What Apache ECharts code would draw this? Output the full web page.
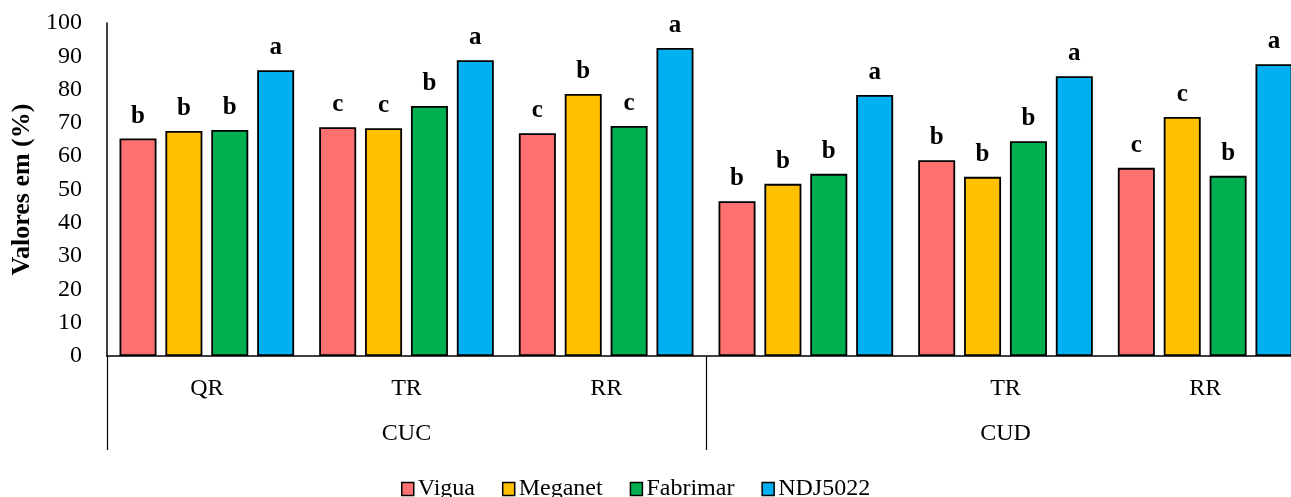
<!DOCTYPE html>
<html>
<head>
<meta charset="utf-8">
<script src="https://cdn.jsdelivr.net/npm/echarts@6/dist/echarts.min.js"></script>
<style>
  html, body { margin: 0; padding: 0; background: #fff; overflow: hidden; }
  /* o gráfico original está cortado à direita: desenha mais largo e esconde o excesso */
  #chart { width: 1305px; height: 497px; }
</style>
</head>
<body>
<div id="chart"></div>
<script>
// categorias (nível inferior e superior)
const categories = ['QR', 'TR', 'RR', '', 'TR', 'RR'];
const groups = ['CUC', 'CUD'];
const seriesNames = ['Vigua', 'Meganet', 'Fabrimar', 'NDJ5022'];

// valores (%)
const vigua = [65.3, 68.7, 66.9, 46.5, 58.8, 56.5];
const meganet = [67.6, 68.4, 78.7, 51.7, 53.8, 71.8];
const fabrimar = [67.9, 75.1, 69.1, 54.7, 64.5, 54.1];
const ndj5022 = [85.8, 88.8, 92.5, 78.4, 84.0, 87.6];

// letras de significância
const viguaLetters = ['b', 'c', 'c', 'b', 'b', 'c'];
const meganetLetters = ['b', 'c', 'b', 'b', 'b', 'c'];
const fabrimarLetters = ['b', 'b', 'c', 'b', 'b', 'b'];
const ndjLetters = ['a', 'a', 'a', 'a', 'a', 'a'];

const yTicks = [0, 100, 10]; // min, max, intervalo

const colors = ['#FF7171', '#FFC000', '#00B050', '#00B0F0'];
const FONT = '"Liberation Serif", "Times New Roman", serif';

const chart = echarts.init(document.getElementById('chart'));

const makeSeries = (name, data, letters, color) => ({
  name: name,
  type: 'bar',
  xAxisIndex: 0,
  data: data,
  barWidth: 37,
  barGap: '24%',
  itemStyle: { color: color, borderColor: '#000', borderWidth: 1.8 },
  label: {
    show: true,
    position: 'top',
    distance: 10,
    formatter: p => letters[p.dataIndex],
    fontFamily: FONT,
    fontWeight: 'bold',
    fontSize: 25,
    color: '#000'
  }
});

chart.setOption({
  animation: false,
  backgroundColor: '#fff',
  textStyle: { fontFamily: FONT },
  grid: { left: 107, top: 23, right: 0, bottom: 141, containLabel: false },
  legend: {
    bottom: -4,
    left: 401,
    padding: 0,
    itemWidth: 12,
    itemHeight: 13,
    itemGap: 27,
    icon: 'rect',
    data: seriesNames,
    itemStyle: { borderColor: '#000', borderWidth: 1.5 },
    textStyle: { fontFamily: FONT, fontSize: 24, color: '#000', padding: [0, 0, 0, -1] }
  },
  xAxis: [
    {
      type: 'category',
      data: categories,
      axisLine: { show: true, lineStyle: { color: '#000', width: 1.5 } },
      axisTick: { show: false },
      axisLabel: { fontFamily: FONT, fontSize: 24, color: '#000', margin: 21, interval: 0 }
    },
    {
      type: 'category',
      data: groups,
      position: 'bottom',
      axisLine: { show: false },
      axisTick: { show: true, length: 94, lineStyle: { color: '#000', width: 1.2 } },
      axisLabel: { fontFamily: FONT, fontSize: 24, color: '#000', margin: 66 }
    }
  ],
  yAxis: {
    type: 'value',
    min: yTicks[0],
    max: yTicks[1],
    interval: yTicks[2],
    name: 'Valores em (%)',
    nameLocation: 'middle',
    nameGap: 69,
    nameTextStyle: { fontFamily: FONT, fontSize: 26, fontWeight: 'bold', color: '#000' },
    axisLine: { show: true, lineStyle: { color: '#000', width: 1.5 } },
    axisTick: { show: false },
    splitLine: { show: false },
    axisLabel: { fontFamily: FONT, fontSize: 24, color: '#000', margin: 25 }
  },
  series: [
    makeSeries(seriesNames[0], vigua, viguaLetters, colors[0]),
    makeSeries(seriesNames[1], meganet, meganetLetters, colors[1]),
    makeSeries(seriesNames[2], fabrimar, fabrimarLetters, colors[2]),
    makeSeries(seriesNames[3], ndj5022, ndjLetters, colors[3])
  ]
});

window.addEventListener('resize', () => chart.resize());
</script>
</body>
</html>
